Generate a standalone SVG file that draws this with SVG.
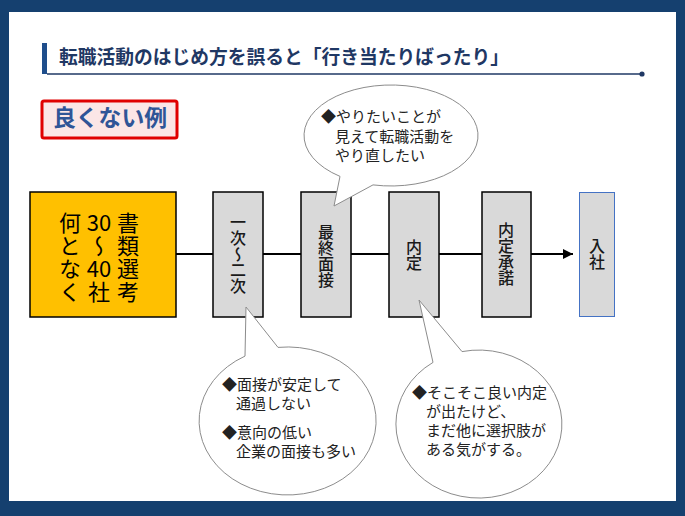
<svg xmlns="http://www.w3.org/2000/svg" width="685" height="516" viewBox="0 0 685 516">
<defs>
<style>
.jp{font-family:"Noto Sans CJK JP","Noto Sans",sans-serif;}
.step{fill:#D9D9D9;stroke:#000;stroke-width:1.5;}
.stxt{font-family:"Noto Sans CJK JP",sans-serif;font-size:16px;fill:#1A1A1A;text-anchor:middle;font-weight:500;writing-mode:vertical-rl;text-orientation:upright;}
.otxt{font-family:"Noto Sans CJK JP",sans-serif;font-size:22px;fill:#000;text-anchor:middle;}
.vtxt{writing-mode:vertical-rl;text-orientation:upright;letter-spacing:1px;}
.call{fill:#fff;stroke:#8C8C8C;stroke-width:1;}
.ctxt{font-family:"Noto Sans CJK JP",sans-serif;font-size:15px;fill:#222;}
.conn{stroke:#000;stroke-width:2;fill:none;}
</style>
<marker id="arr" viewBox="0 0 10 10" refX="10" refY="5" markerWidth="5" markerHeight="5" orient="auto" markerUnits="strokeWidth">
<path d="M0,0 L10,5 L0,10 Z" fill="#000"/>
</marker>
</defs>
<rect x="0" y="0" width="685" height="516" fill="#15406F"/>
<rect x="9" y="12" width="667" height="489" fill="#fff"/>

<g id="title">
<rect x="42" y="43" width="5" height="31" fill="#1F4E8C"/>
<line x1="47" y1="74" x2="642" y2="74" stroke="#1F3864" stroke-width="1.5"/>
<circle cx="642" cy="74" r="2.6" fill="#1F3864"/>
<text x="59" y="64" class="jp" font-size="18.75" font-weight="700" fill="#1F3864">転職活動のはじめ方を誤ると「行き当たりばったり」</text>
</g>

<g id="badge">
<rect x="42" y="101" width="135" height="37" rx="2" fill="#FBE6E6" stroke="#E00000" stroke-width="3"/>
<text x="53" y="126" class="jp" font-size="22.8" font-weight="700" fill="#2F5597">良くない例</text>
</g>

<g id="connectors">
<line class="conn" x1="176" y1="254" x2="213" y2="254"/>
<line class="conn" x1="263" y1="254" x2="301" y2="254"/>
<line class="conn" x1="351" y1="254" x2="389" y2="254"/>
<line class="conn" x1="439" y1="254" x2="482" y2="254"/>
<line class="conn" x1="531" y1="254" x2="573" y2="254" marker-end="url(#arr)"/>
</g>

<g id="node-start">
<rect x="30" y="192" width="146" height="125" fill="#FFC000" stroke="#000" stroke-width="1.5"/>
<text class="otxt vtxt" x="70" y="257.5">何となく</text>
<text class="otxt" x="99" y="231" font-size="21">30</text>
<text class="otxt vtxt" x="99" y="246">〜</text>
<text class="otxt" x="99" y="277" font-size="21">40</text>
<text class="otxt vtxt" x="99" y="292">社</text>
<text class="otxt vtxt" x="128" y="257.5">書類選考</text>
</g>

<g id="node-1">
<rect class="step" x="213" y="192" width="50" height="125"/>
<text class="stxt" x="238" y="254">一次〜二次</text>
</g>

<g id="node-2">
<rect class="step" x="301" y="192" width="50" height="125"/>
<text class="stxt" x="326" y="256">最終面接</text>
</g>

<g id="node-3">
<rect class="step" x="389" y="192" width="50" height="125"/>
<text class="stxt" x="414" y="255">内定</text>
</g>

<g id="node-4">
<rect class="step" x="482" y="192" width="49" height="125"/>
<text class="stxt" x="506" y="254">内定承諾</text>
</g>

<g id="node-5">
<rect x="579.5" y="192.5" width="35" height="124" fill="#D9D9D9" stroke="#4472C4" stroke-width="1"/>
<text class="stxt" x="597" y="254">入社</text>
</g>

<g id="callout-top">
<path class="call" d="M373,184.9 L334,206 L340,176.4 A87,50.5 0 1 1 373,184.9 Z"/>
<text class="ctxt" x="321" y="121.5">◆やりたいことが</text>
<text class="ctxt" x="335" y="141.5">見えて転職活動を</text>
<text class="ctxt" x="335" y="160.5">やり直したい</text>
</g>

<g id="callout-left">
<path class="call" d="M245,356.1 L246,307 L278,347.4 A88.5,74 0 1 1 245,356.1 Z"/>
<text class="ctxt" x="222" y="389.5">◆面接が安定して</text>
<text class="ctxt" x="236" y="408.5">通過しない</text>
<text class="ctxt" x="222" y="437.5">◆意向の低い</text>
<text class="ctxt" x="236" y="456.5">企業の面接も多い</text>
</g>

<g id="callout-right">
<path class="call" d="M433,362.4 L419,300 L462,351.6 A83,74 0 1 1 433,362.4 Z"/>
<text class="ctxt" x="412" y="398">◆そこそこ良い内定</text>
<text class="ctxt" x="426" y="417">が出たけど、</text>
<text class="ctxt" x="426" y="436">まだ他に選択肢が</text>
<text class="ctxt" x="426" y="455">ある気がする。</text>
</g>
</svg>
